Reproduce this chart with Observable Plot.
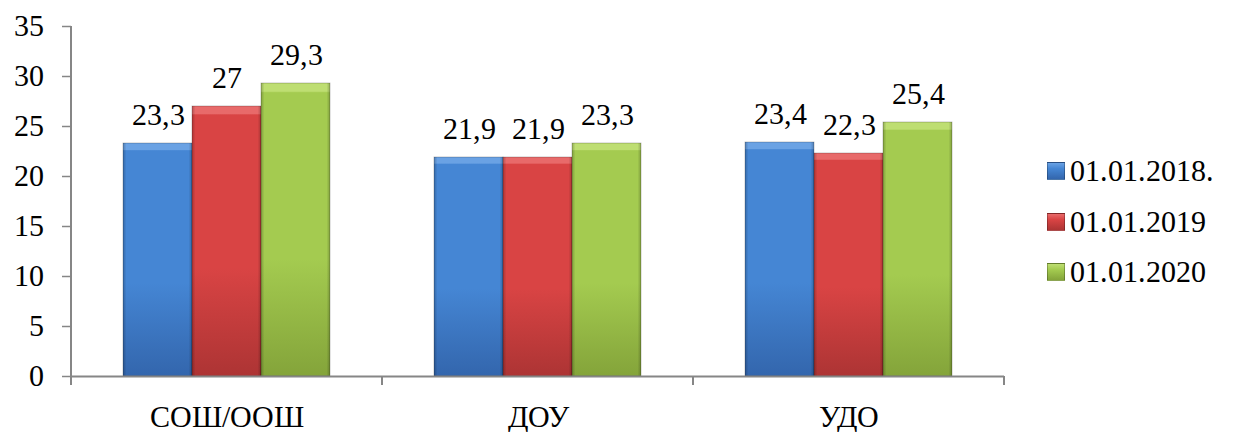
<!DOCTYPE html>
<html><head><meta charset="utf-8">
<script src="https://cdn.jsdelivr.net/npm/d3@7"></script>
<script src="https://cdn.jsdelivr.net/npm/@observablehq/plot@0.6"></script>
<style>
@font-face{font-family:"ChartSerif";src:local("Liberation Serif"),local("LiberationSerif"),local("LiberationSerif-Regular");}
body{margin:0;background:#fff;font-family:"ChartSerif",'Liberation Serif',serif;}
#wrap{position:relative;width:1235px;height:432px;}
#legend{position:absolute;left:1047px;top:146px;}
.row{display:flex;align-items:center;height:50.5px;font-size:30px;line-height:1;color:#000;}
.sw{width:18px;height:18px;margin-right:5px;box-sizing:border-box;border:1px solid rgba(0,0,0,0.25);}
svg text{font-family:"ChartSerif",'Liberation Serif',serif;}
</style></head><body><div id="wrap"></div>
<script>
const categories = ["СОШ/ООШ", "ДОУ", "УДО"];
const series = ["01.01.2018.", "01.01.2019", "01.01.2020"];
const v2018 = [23.3, 21.9, 23.4];
const v2019 = [27, 21.9, 22.3];
const v2020 = [29.3, 23.3, 25.4];
const yTicks = [0, 5, 10, 15, 20, 25, 30, 35];
const colorTop = ["#6aa2e4", "#e86a6a", "#bede72"];
const colorMid = ["#4586d4", "#d94444", "#a4cb50"];
const colorBot = ["#3366ad", "#ad3434", "#84a43a"];

const valuesBySeries = [v2018, v2019, v2020];
const rows = [];
categories.forEach((c, i) => series.forEach((s, j) => rows.push({cat: c, series: s, value: valuesBySeries[j][i]})));
const fmt = v => String(v).replace(".", ",");

const plot = Plot.plot({
  width: 1235, height: 432,
  marginLeft: 71, marginRight: 231, marginTop: 26, marginBottom: 56,
  style: {fontFamily: "ChartSerif, 'Liberation Serif', serif", fontSize: "30px", color: "black", background: "white", overflow: "visible"},
  fx: {domain: categories, padding: 0, label: null},
  x: {domain: series, paddingInner: 0, paddingOuter: 0.74, axis: null},
  y: {domain: [0, 35], label: null},
  color: {type: "ordinal", domain: series, range: series.map((s, i) => `url(#grad${i})`)},
  marks: [
    Plot.axisY({ticks: yTicks, tickSize: 9, tickPadding: 19, stroke: "#868686", strokeWidth: 1.5, fill: "black", label: null}),
    Plot.axisFx({anchor: "bottom", tickSize: 0, tickPadding: 29, label: null, fill: "black"}),
    Plot.barY(rows, {fx: "cat", x: "series", y: "value", fill: "series", stroke: "rgba(0,0,0,0.28)", strokeWidth: 0.8}),
    Plot.barY(rows, {fx: "cat", x: "series", y: "value", fill: "url(#edge)"}),
    Plot.ruleY([0], {stroke: "#868686", strokeWidth: 2}),
    Plot.text(rows, {fx: "cat", x: "series", y: "value", text: d => fmt(d.value), lineAnchor: "bottom", dy: -19, fill: "black"})
  ]
});

const svg = d3.select(plot);
const defs = svg.insert("defs", ":first-child");
series.forEach((s, i) => {
  const g = defs.append("linearGradient").attr("id", `grad${i}`).attr("x1", 0).attr("y1", 0).attr("x2", 0).attr("y2", 1);
  g.append("stop").attr("offset", 0).attr("stop-color", colorTop[i]);
  g.append("stop").attr("offset", 0.028).attr("stop-color", colorTop[i]);
  g.append("stop").attr("offset", 0.033).attr("stop-color", colorMid[i]);
  g.append("stop").attr("offset", 0.6).attr("stop-color", colorMid[i]);
  g.append("stop").attr("offset", 1).attr("stop-color", colorBot[i]);
});
const e = defs.append("linearGradient").attr("id", "edge").attr("x1", 0).attr("y1", 0).attr("x2", 1).attr("y2", 0);
e.append("stop").attr("offset", 0).attr("stop-color", "#000").attr("stop-opacity", 0.22);
e.append("stop").attr("offset", 0.05).attr("stop-color", "#000").attr("stop-opacity", 0);
e.append("stop").attr("offset", 0.95).attr("stop-color", "#000").attr("stop-opacity", 0);
e.append("stop").attr("offset", 1).attr("stop-color", "#000").attr("stop-opacity", 0.22);

// axis lines derived from the plot's own scales
const fx = plot.scale("fx"), y = plot.scale("y");
const bounds = categories.map(c => fx.apply(c)).concat([fx.apply(categories[categories.length - 1]) + fx.bandwidth]);
const ga = svg.append("g").attr("stroke", "#868686").attr("stroke-width", 2);
ga.append("line").attr("x1", bounds[0]).attr("x2", bounds[0]).attr("y1", y.apply(0)).attr("y2", y.apply(35));
bounds.forEach(b => ga.append("line").attr("x1", b).attr("x2", b).attr("y1", y.apply(0)).attr("y2", y.apply(0) + 9));

const wrap = document.getElementById("wrap");
wrap.appendChild(plot);
const legend = document.createElement("div");
legend.id = "legend";
series.forEach((s, i) => {
  const r = document.createElement("div");
  r.className = "row";
  const sw = document.createElement("span");
  sw.className = "sw";
  sw.style.background = `linear-gradient(to bottom, ${colorTop[i]} 0%, ${colorMid[i]} 35%, ${colorBot[i]} 100%)`;
  r.appendChild(sw);
  r.appendChild(document.createTextNode(s));
  legend.appendChild(r);
});
wrap.appendChild(legend);
</script></body></html>
